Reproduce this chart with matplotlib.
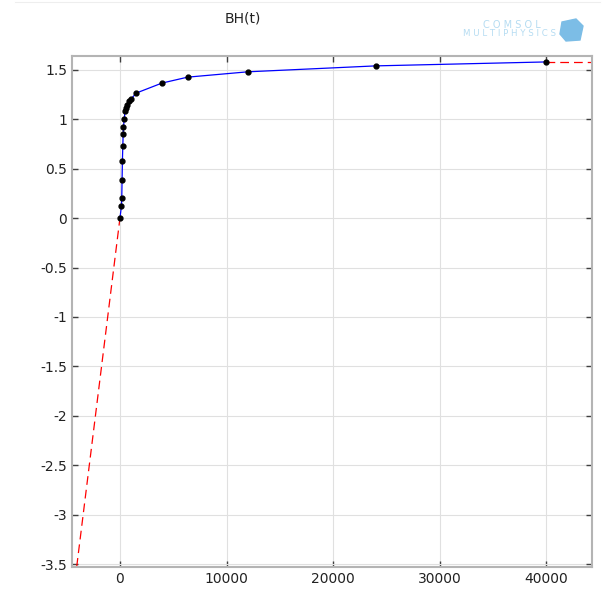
import matplotlib
matplotlib.use("Agg")
import matplotlib.pyplot as plt
from matplotlib.patches import Polygon
import numpy as np

# Data
H = [0, 145, 170, 200, 230, 270, 300, 330, 400, 480, 560, 680, 850, 1000,
     1530, 3940, 6350, 12000, 24000, 40000]
B = [0, 0.126, 0.204, 0.389, 0.58, 0.733, 0.847, 0.92, 1.0, 1.08, 1.11,
     1.146, 1.187, 1.2, 1.265, 1.366, 1.426, 1.48, 1.54, 1.58]
extrap_left_x = [-4500, 0]
extrap_right_x = [40000, 44300]
xticks = [0, 10000, 20000, 30000, 40000]
yticks = [1.5, 1, 0.5, 0, -0.5, -1, -1.5, -2, -2.5, -3, -3.5]
ytick_labels = ["1.5", "1", "0.5", "0", "-0.5", "-1", "-1.5", "-2", "-2.5", "-3", "-3.5"]

fig = plt.figure(figsize=(6.11, 5.93), dpi=100)
ax = fig.add_axes([72/611, 1-567/593, (592-72)/611, (567-56)/593])

# extrapolations (linear at start, constant at end)
slope = B[1] / H[1]
ax.plot(extrap_left_x, [slope*x for x in extrap_left_x], color="red",
        lw=0.9, ls=(0, (7, 4)))
ax.plot(extrap_right_x, [B[-1], B[-1]], color="red", lw=0.9, ls=(0, (7, 4)))

ax.plot(H, B, color="blue", lw=0.9)
ax.plot(H, B, ls="none", marker="o", ms=3.5, color="black")

ax.set_xlim(-4500, 44300)
ax.set_ylim(-3.53, 1.64)
ax.set_xticks(xticks)
ax.set_xticklabels([str(v) for v in xticks])
ax.set_yticks(yticks)
ax.set_yticklabels(ytick_labels)
ax.grid(True, color="#e0e0e0", lw=0.8)
ax.set_axisbelow(True)
ax.tick_params(direction="in", top=True, right=True, length=4, width=1,
               color="#404040", labelsize=10, labelcolor="#222222")
for s in ax.spines.values():
    s.set_color("#b4b4b4")
    s.set_linewidth(1.5)

fig.text(243/611, 1-18/593, "BH(t)", ha="center", va="center", fontsize=10,
         color="#222222")

# logo
fig.text(541/611, 1-25/593, "C O M S O L", ha="right", va="center", fontsize=7,
         color="#b5dcf2")
fig.text(556/611, 1-34/593, "M U L T I P H Y S I C S", ha="right", va="center",
         fontsize=6.2, color="#b5dcf2")
W, Hf = 611, 593
cube_front = [(562, 22), (576, 19), (583, 26), (580, 40), (566, 41), (560, 34)]
fig.patches.append(Polygon([(x/W, 1-y/Hf) for x, y in cube_front],
                           closed=True, transform=fig.transFigure,
                           color="#7cbde6"))
fig.add_artist(plt.Line2D([15/611, 600/611], [1-2/593, 1-2/593],
                          transform=fig.transFigure, color="#eeeeee", lw=0.8))

fig.savefig("out.png", dpi=100)
